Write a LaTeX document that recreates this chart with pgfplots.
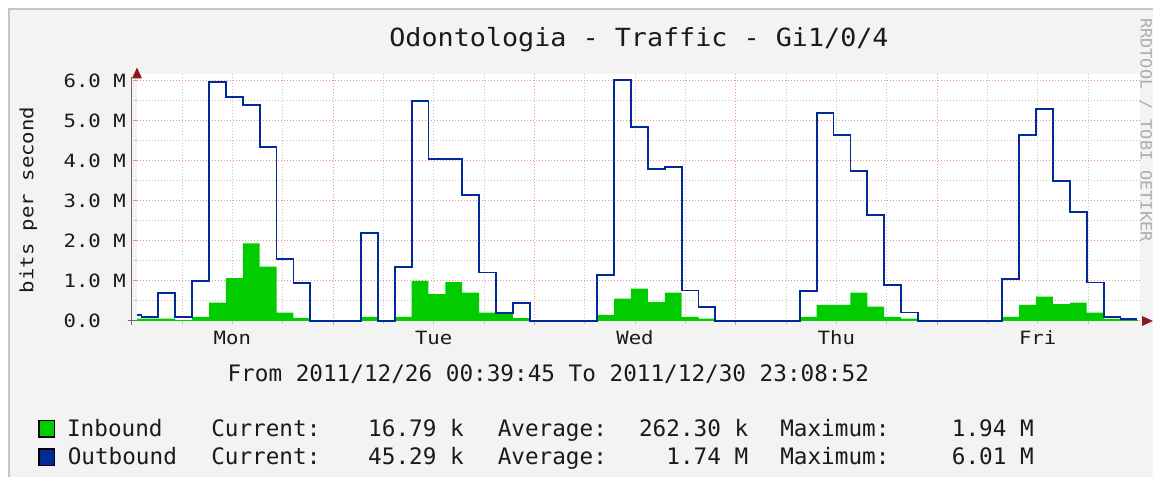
\documentclass[border=0pt]{standalone}
\usepackage{pgfplots}
\pgfplotsset{compat=1.18}
\usepackage{pgfplotstable}
\usetikzlibrary{calc}
\usepackage{fontspec}
\setmainfont{DejaVu Sans Mono}
\newfontfamily\rrdtitle{DejaVu Sans Mono}[FakeStretch=1.07]
\newfontfamily\rrdsmall{DejaVu Sans Mono}[FakeStretch=1.13]
\newfontfamily\rrdleg{DejaVu Sans Mono}
\newfontfamily\rrdwm{DejaVu Sans Mono}[FakeStretch=1.09]
\newcommand\titlesize{\rrdtitle\fontsize{18.75pt}{22pt}\selectfont}
\newcommand\ticksize{\rrdsmall\fontsize{13.7pt}{16pt}\selectfont}
\newcommand\legsize{\rrdleg\fontsize{17pt}{20pt}\selectfont}
\newcommand\wmsize{\rrdwm\fontsize{11.6pt}{14pt}\selectfont}
\definecolor{bg}{HTML}{F3F3F3}
\definecolor{inb}{HTML}{00CC00}
\definecolor{outb}{HTML}{002A97}
\definecolor{mgrid}{HTML}{F08C8C}
\definecolor{ngrid}{HTML}{C4C4C4}
\definecolor{arrowc}{HTML}{8B1A1A}
\definecolor{axc}{HTML}{6A6A6A}
\definecolor{wm}{HTML}{ABABAB}
\definecolor{txt}{HTML}{1A1A1A}

\pgfplotstableread{
t v
0.64 0.06
1.17 0.06
3.18 0.06
5.20 0.02
7.21 0.10
9.22 0.46
11.23 1.07
13.25 1.94
15.26 1.36
17.27 0.21
19.28 0.07
21.29 0
27.33 0.10
29.34 0.02
31.35 0.10
33.37 1.00
35.38 0.67
37.39 0.97
39.40 0.71
41.41 0.21
43.43 0.17
45.44 0.07
47.45 0
55.50 0.15
57.51 0.56
59.52 0.81
61.53 0.47
63.55 0.71
65.56 0.10
67.57 0.06
69.58 0
79.64 0.10
81.66 0.40
83.67 0.40
85.68 0.71
87.69 0.36
89.70 0.10
91.72 0.06
93.73 0
103.79 0.10
105.80 0.40
107.81 0.61
109.82 0.42
111.84 0.46
113.85 0.21
115.86 0.05
117.87 0.017
119.80 0.017
}\inbound

\pgfplotstableread{
t v
0.64 0.15
1.17 0.10
3.18 0.69
5.20 0.10
7.21 1.00
9.22 5.96
11.23 5.60
13.25 5.40
15.26 4.34
17.27 1.54
19.28 0.94
21.29 0
27.33 2.19
29.34 0
31.35 1.34
33.37 5.50
35.38 4.04
39.40 3.15
41.41 1.21
43.43 0.19
45.44 0.44
47.45 0
55.50 1.15
57.51 6.01
59.52 4.84
61.53 3.79
63.55 3.85
65.56 0.76
67.57 0.34
69.58 0
79.64 0.75
81.66 5.20
83.67 4.64
85.68 3.74
87.69 2.65
89.70 0.89
91.72 0.21
93.73 0
103.79 1.04
105.80 4.64
107.81 5.29
109.82 3.50
111.84 2.73
113.85 0.96
115.86 0.09
117.87 0.045
119.80 0.045
}\outbound

\begin{document}
\begin{tikzpicture}[x=0.75pt,y=0.75pt]
\useasboundingbox (0,0) rectangle (1153,477);
\fill[white] (0,0) rectangle (1153,477);
\fill[bg] (9,0) rectangle (1153,468);
\draw[gray!45,line width=1.5pt] (9,0) -- (9,468) -- (1153,468);

\begin{axis}[
  at={(102.75pt,117pt)}, anchor=south west,
  scale only axis, width=752.25pt, height=185.25pt,
  xmin=0.632, xmax=120.2, ymin=0, ymax=6.17,
  axis background/.style={fill=white},
  axis line style={draw=none},
  clip=false,
  tick pos=left, tick align=outside,
  major tick length=3pt, minor tick length=2pt,
  xtick={24,48,72,96}, xticklabels={,,,},
  minor xtick={6,12,18,30,36,42,54,60,66,78,84,90,102,108,114},
  ytick={0,1,2,3,4,5,6},
  yticklabels={{0.0\hphantom{xx}},{1.0 M},{2.0 M},{3.0 M},{4.0 M},{5.0 M},{6.0 M}},
  minor ytick={0.5,1.5,2.5,3.5,4.5,5.5},
  grid=both,
  major grid style={mgrid, line width=0.75pt, dash pattern=on 0.75pt off 1.5pt},
  minor grid style={ngrid, line width=0.75pt, dash pattern=on 0.75pt off 1.5pt},
  major tick style={mgrid, line width=0.75pt},
  minor tick style={ngrid, line width=0.75pt},
  yticklabel style={font=\ticksize, text=txt, inner sep=0pt, anchor=east, xshift=-5.25pt},
  extra x ticks={12,36,60,84,108},
  extra x tick labels={Mon,Tue,Wed,Thu,Fri},
  extra x tick style={grid=none, major tick length=0pt,
    xticklabel style={font=\ticksize, text=txt, anchor=base, inner sep=0pt, yshift=-18pt}},
]
\draw[axc, line width=0.75pt] ($(rel axis cs:0,0)+(-3pt,0)$) -- ($(rel axis cs:1,0)+(2.25pt,0)$);
\draw[axc, line width=0.75pt] ($(rel axis cs:0,0)+(0,-3pt)$) -- ($(rel axis cs:0,1)+(0,-2.25pt)$);
\addplot[const plot, draw=none, fill=inb] table[x=t,y=v]{\inbound} \closedcycle;
\addplot[const plot, outb, line width=1.35pt] table[x=t,y=v]{\outbound};
\end{axis}

% arrows
\fill[arrowc] (1153,156) -- (1142,161) -- (1142,151) -- cycle;
\fill[arrowc] (137,409.5) -- (132,398.5) -- (142,398.5) -- cycle;

% title and labels
\node[anchor=base, inner sep=0pt, font=\titlesize, text=txt] at (639,430.3) {Odontologia - Traffic - Gi1/0/4};
\node[rotate=90, anchor=base, inner sep=0pt, font=\ticksize, text=txt] at (33.3,277) {bits per second};
\node[rotate=-90, anchor=base west, inner sep=0pt, font=\wmsize, text=wm] at (1140.5,459) {RRDTOOL / TOBI OETIKER};
\node[anchor=base west, inner sep=0pt, font=\legsize, text=txt] at (227.3,95.3) {From 2011/12/26 00:39:45 To 2011/12/30 23:08:52};

% legend
\filldraw[fill=inb, draw=black, line width=1.2pt] (39,40) rectangle (54.5,56.5);
\filldraw[fill=outb, draw=black, line width=1.2pt] (39,11.5) rectangle (54.5,28);
\begin{scope}[every node/.style={inner sep=0pt, font=\legsize, text=txt}]
\node[anchor=base west] at (66.8,40.3) {Inbound};
\node[anchor=base west] at (67.5,12.7) {Outbound};
\node[anchor=base west] at (211,40.3) {Current:};
\node[anchor=base west] at (211,12.7) {Current:};
\node[anchor=base east] at (464,40.3) {16.79 k};
\node[anchor=base east] at (464,12.7) {45.29 k};
\node[anchor=base west] at (497.5,40.3) {Average:};
\node[anchor=base west] at (497.5,12.7) {Average:};
\node[anchor=base east] at (748.5,40.3) {262.30 k};
\node[anchor=base east] at (748.5,12.7) {1.74 M};
\node[anchor=base west] at (780,40.3) {Maximum:};
\node[anchor=base west] at (780,12.7) {Maximum:};
\node[anchor=base east] at (1034,40.3) {1.94 M};
\node[anchor=base east] at (1034,12.7) {6.01 M};
\end{scope}
\end{tikzpicture}
\end{document}
